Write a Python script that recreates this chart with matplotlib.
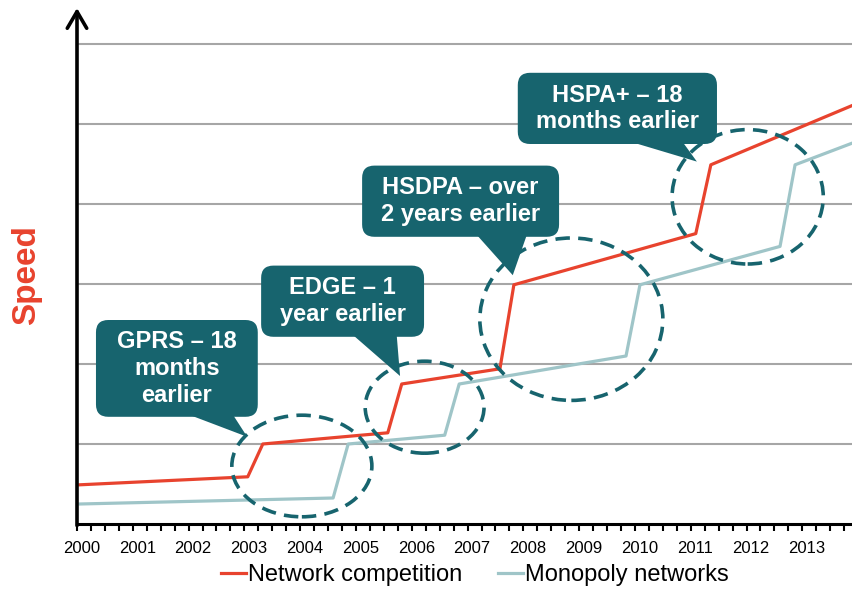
import matplotlib
matplotlib.use("Agg")
import matplotlib.pyplot as plt
from matplotlib.patches import Ellipse, FancyBboxPatch, Polygon
from matplotlib.ticker import MultipleLocator, FixedLocator

plt.rcParams['font.family'] = ['Liberation Sans', 'DejaVu Sans']

# data (years, relative speed)
competition_x = [2000.05, 2003.06, 2003.33, 2005.57, 2005.82, 2007.58, 2007.83, 2011.09, 2011.36, 2013.89]
competition_y = [0.49, 0.59, 1.00, 1.14, 1.75, 1.94, 2.99, 3.63, 4.49, 5.23]
monopoly_x = [2000.05, 2004.59, 2004.86, 2006.59, 2006.85, 2009.84, 2010.09, 2012.60, 2012.87, 2013.89]
monopoly_y = [0.25, 0.325, 1.00, 1.11, 1.75, 2.10, 2.99, 3.47, 4.49, 4.76]
years = list(range(2000, 2014))

# callouts: text, box (x0, x1, y0, y1), pointer base (xa, xb), tip (x, y)
callouts = [
    ("GPRS – 18\nmonths\nearlier", (2000.34, 2003.24, 1.34, 2.55), (2002.03, 2002.80), (2003.05, 1.09)),
    ("EDGE – 1\nyear earlier", (2003.30, 2006.22, 2.34, 3.23), (2004.95, 2005.73), (2005.79, 1.85)),
    ("HSDPA – over\n2 years earlier", (2005.11, 2008.64, 3.59, 4.48), (2007.17, 2008.06), (2007.81, 3.11)),
    ("HSPA+ – 18\nmonths earlier", (2007.90, 2011.47, 4.75, 5.64), (2009.96, 2010.86), (2011.11, 4.53)),
]
# dashed rings: center, width, height
rings = [
    ((2004.03, 0.725), 2.51, 1.27),
    ((2006.23, 1.46), 2.13, 1.15),
    ((2008.86, 2.56), 3.28, 2.03),
    ((2012.02, 4.09), 2.71, 1.68),
]

red = '#e8432e'
blue = '#9fc5c8'
teal = '#17646e'

fig = plt.figure(figsize=(8.52, 5.90), dpi=100)
ax = fig.add_axes([77 / 852, 66 / 590, 775 / 852, 516 / 590])
ax.set_xlim(2000, 2013.89)
ax.set_ylim(0, 6.45)

for g in range(1, 7):
    ax.axhline(g, color='#a6a6a6', lw=1.5, zorder=1)

ax.plot(competition_x, competition_y, color=red, lw=2.3, label='Network competition', zorder=3)
ax.plot(monopoly_x, monopoly_y, color=blue, lw=2.3, label='Monopoly networks', zorder=2)

for (c, w, h) in rings:
    ax.add_patch(Ellipse(c, w, h, fill=False, edgecolor=teal, lw=2.6,
                         linestyle=(0, (4, 2.3)), zorder=4))

for text, (x0, x1, y0, y1), (xa, xb), tip in callouts:
    box = FancyBboxPatch((x0, y0), x1 - x0, y1 - y0,
                         boxstyle="round,pad=0,rounding_size=0.22",
                         mutation_aspect=55.8 / 80,
                         facecolor=teal, edgecolor='none', zorder=5)
    ax.add_patch(box)
    ax.add_patch(Polygon([(xa, y0 + 0.02), (xb, y0 + 0.02), tip], closed=True,
                         facecolor=teal, edgecolor='none', zorder=5))
    ax.text((x0 + x1) / 2, (y0 + y1) / 2, text, color='white', fontsize=17,
            fontweight='bold', ha='center', va='center', linespacing=1.2, zorder=6)

# axes styling
for s in ['top', 'right', 'left']:
    ax.spines[s].set_visible(False)
ax.spines['bottom'].set_linewidth(2.2)
ax.annotate('', xy=(0, 1.0), xytext=(0, -0.003), xycoords='axes fraction',
            arrowprops=dict(arrowstyle='->,head_length=1.2,head_width=0.7',
                            lw=2.6, color='black', shrinkA=0, shrinkB=0))
ax.set_yticks([])
ax.xaxis.set_major_locator(FixedLocator([y + 0.08 for y in years]))
ax.set_xticklabels([str(y) for y in years], fontsize=12)
ax.xaxis.set_minor_locator(MultipleLocator(0.25))
ax.tick_params(axis='x', which='major', length=0, pad=12)
ax.tick_params(axis='x', which='minor', length=5, width=1.5, direction='out')

fig.text(27 / 852, 1 - 275 / 590, 'Speed', rotation=90, color=red, fontsize=24,
         fontweight='bold', ha='center', va='center')

fig.legend(loc='center', bbox_to_anchor=(475 / 852, 1 - 575 / 590), ncol=2,
           frameon=False, fontsize=17, handlelength=1.05, handletextpad=0.1,
           columnspacing=1.5, borderpad=0)

fig.savefig('out.png', dpi=100)
